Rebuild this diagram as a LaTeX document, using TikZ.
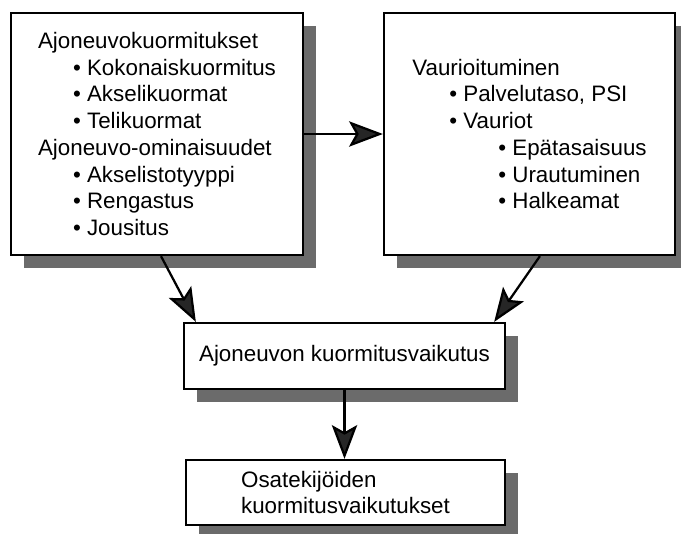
\documentclass[tikz,border=0pt]{standalone}
\usepackage{fontspec}
\setmainfont{Liberation Sans}
\usetikzlibrary{
	arrows.meta,
	shadows
}
\colorlet{BoxShade}{black!58}
\colorlet{TipGray}{black!85}
\newcommand{\bul}[1]{\hspace*{#1}•\ }
\tikzset{
	panel/.style={draw, fill=white, line width=1.6pt, align=left, inner sep=0pt,
		font=\fontsize{15.9}{19}\selectfont,
		drop shadow={shadow xshift=0.325cm, shadow yshift=-0.325cm, fill=BoxShade, opacity=1}},
	link/.style={line width=1.6pt,
		-{Stealth[length=24pt, width=18pt, inset=5pt, fill=TipGray]}}
}

\begin{document}
\begin{tikzpicture}[x=0.025cm, y=-0.025cm]
		\useasboundingbox (0,0) rectangle (681,533);
		
		% -- Top row: loads and damage ---------------------------------
		\node[panel, minimum width=7.3cm, minimum height=6.05cm] (vehicle) at (157,134)
		{Ajoneuvokuormitukset\\
			\bul{0.875cm}Kokonaiskuormitus\\
			\bul{0.875cm}Akselikuormat\\
			\bul{0.875cm}Telikuormat\\
			Ajoneuvo-ominaisuudet\\
			\bul{0.875cm}Akselistotyyppi\\
			\bul{0.875cm}Rengastus\\
			\bul{0.875cm}Jousitus};
		
		\node[panel, minimum width=7.275cm, minimum height=6.05cm] (damage) at (529.5,134)
		{Vaurioituminen\\
			\bul{0.925cm}Palvelutaso, PSI\\
			\bul{0.925cm}Vauriot\\
			\bul{2.15cm}Epätasaisuus\\
			\bul{2.15cm}Urautuminen\\
			\bul{2.15cm}Halkeamat};
		
		% -- Middle and bottom boxes ------------------------------------
		\node[panel, minimum width=8.025cm, minimum height=1.65cm] (effect) at (344.5,356)
		{Ajoneuvon kuormitusvaikutus};
		
		\node[panel, minimum width=7.975cm, minimum height=1.625cm] (parts) at (345.5,492.5)
		{Osatekijöiden\\kuormitusvaikutukset};
		
		% -- Arrows ----------------------------------------------------
		\draw[link] (vehicle) -- (damage);
		\draw[link] ([xshift=0.1cm]vehicle.south) -- ([xshift=0.325cm]effect.north west);
		\draw[link] ([xshift=0.26cm]damage.south) -- ([xshift=-0.3cm]effect.north east);
		\draw[link] (effect.south) -- (effect.south |- parts.north);
		
	\end{tikzpicture}
\end{document}
